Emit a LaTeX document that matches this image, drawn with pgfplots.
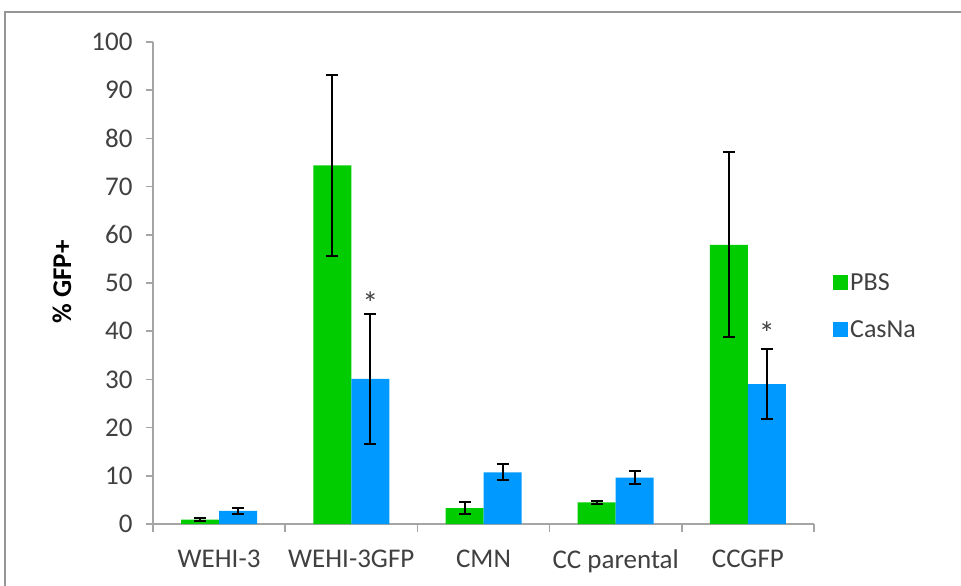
\documentclass[border=0pt]{standalone}
\usepackage{pgfplots}
\pgfplotsset{compat=1.18}
\usepackage{fontspec}
\setmainfont{Carlito}
\definecolor{pbs}{RGB}{0,204,0}
\definecolor{casna}{RGB}{0,153,255}
\definecolor{axgray}{RGB}{165,165,165}
\definecolor{txtgray}{RGB}{64,64,64}
\definecolor{framegray}{RGB}{150,150,150}
\begin{document}
\begin{tikzpicture}
\useasboundingbox (0pt,0pt) rectangle (961pt,-586pt);
\draw[framegray, line width=2pt] (5pt,-700pt) -- (5pt,-12pt) -- (1100pt,-12pt);
\begin{axis}[
  at={(153pt,-524pt)}, anchor=south west,
  scale only axis, width=661pt, height=482pt,
  xmin=-0.5, xmax=4.5, ymin=0, ymax=100,
  axis x line*=bottom, axis y line*=left,
  axis line style={axgray, line width=1.5pt},
  ytick={0,10,...,100},
  xtick={0,...,4},
  xticklabels={WEHI-3,WEHI-3GFP,CMN,CC parental,CCGFP},
  minor xtick={-0.5,0.5,...,4.5},
  major x tick style={draw=none},
  tick align=outside,
  tick style={axgray, line width=1.5pt},
  major tick length=7pt, minor tick length=8pt,
  ticklabel style={font=\fontsize{27}{32}\selectfont, text=txtgray},
  /pgf/number format/assume math mode=true,
  xticklabel style={yshift=-15pt},
  yticklabel style={xshift=-10pt},
  ylabel={\% GFP+},
  ylabel style={at={(axis description cs:-0.1377,0.502)}, anchor=center, font=\fontsize{27}{32}\selectfont\bfseries},
  ybar=0pt, bar width=38pt,
  legend style={at={(1.0287,0.452)}, anchor=west, draw=none, fill=none, inner sep=0pt,
    font=\fontsize{26}{31}\selectfont, text=txtgray, row sep=24pt},
  legend cell align=left,
  legend image code/.code={\fill[#1,draw=none] (0pt,-7.5pt) rectangle (15pt,7.5pt);},
  clip=false,
]
\addplot+[fill=pbs, draw=none, error bars/.cd, y dir=both, y explicit,
  error bar style={black, line width=2pt}, error mark options={rotate=90, black, mark size=6pt, line width=2pt}]
  coordinates {(0,0.9) +- (0,0.3) (1,74.4) +- (0,18.8) (2,3.3) +- (0,1.3) (3,4.5) +- (0,0.3) (4,57.9) +- (0,19.2)};
\addplot+[fill=casna, draw=none, error bars/.cd, y dir=both, y explicit,
  error bar style={black, line width=2pt}, error mark options={rotate=90, black, mark size=6pt, line width=2pt}]
  coordinates {(0,2.7) +- (0,0.7) (1,30.1) +- (0,13.4) (2,10.7) +- (0,1.65) (3,9.6) +- (0,1.4) (4,29.0) +- (0,7.3)};
\legend{PBS,CasNa}
\node[anchor=base, text=txtgray, font=\fontsize{32}{36}\selectfont, xshift=19pt] at (axis cs:1,43.5) {*};
\node[anchor=base, text=txtgray, font=\fontsize{32}{36}\selectfont, xshift=19pt] at (axis cs:4,37.3) {*};
\end{axis}
\end{tikzpicture}
\end{document}
